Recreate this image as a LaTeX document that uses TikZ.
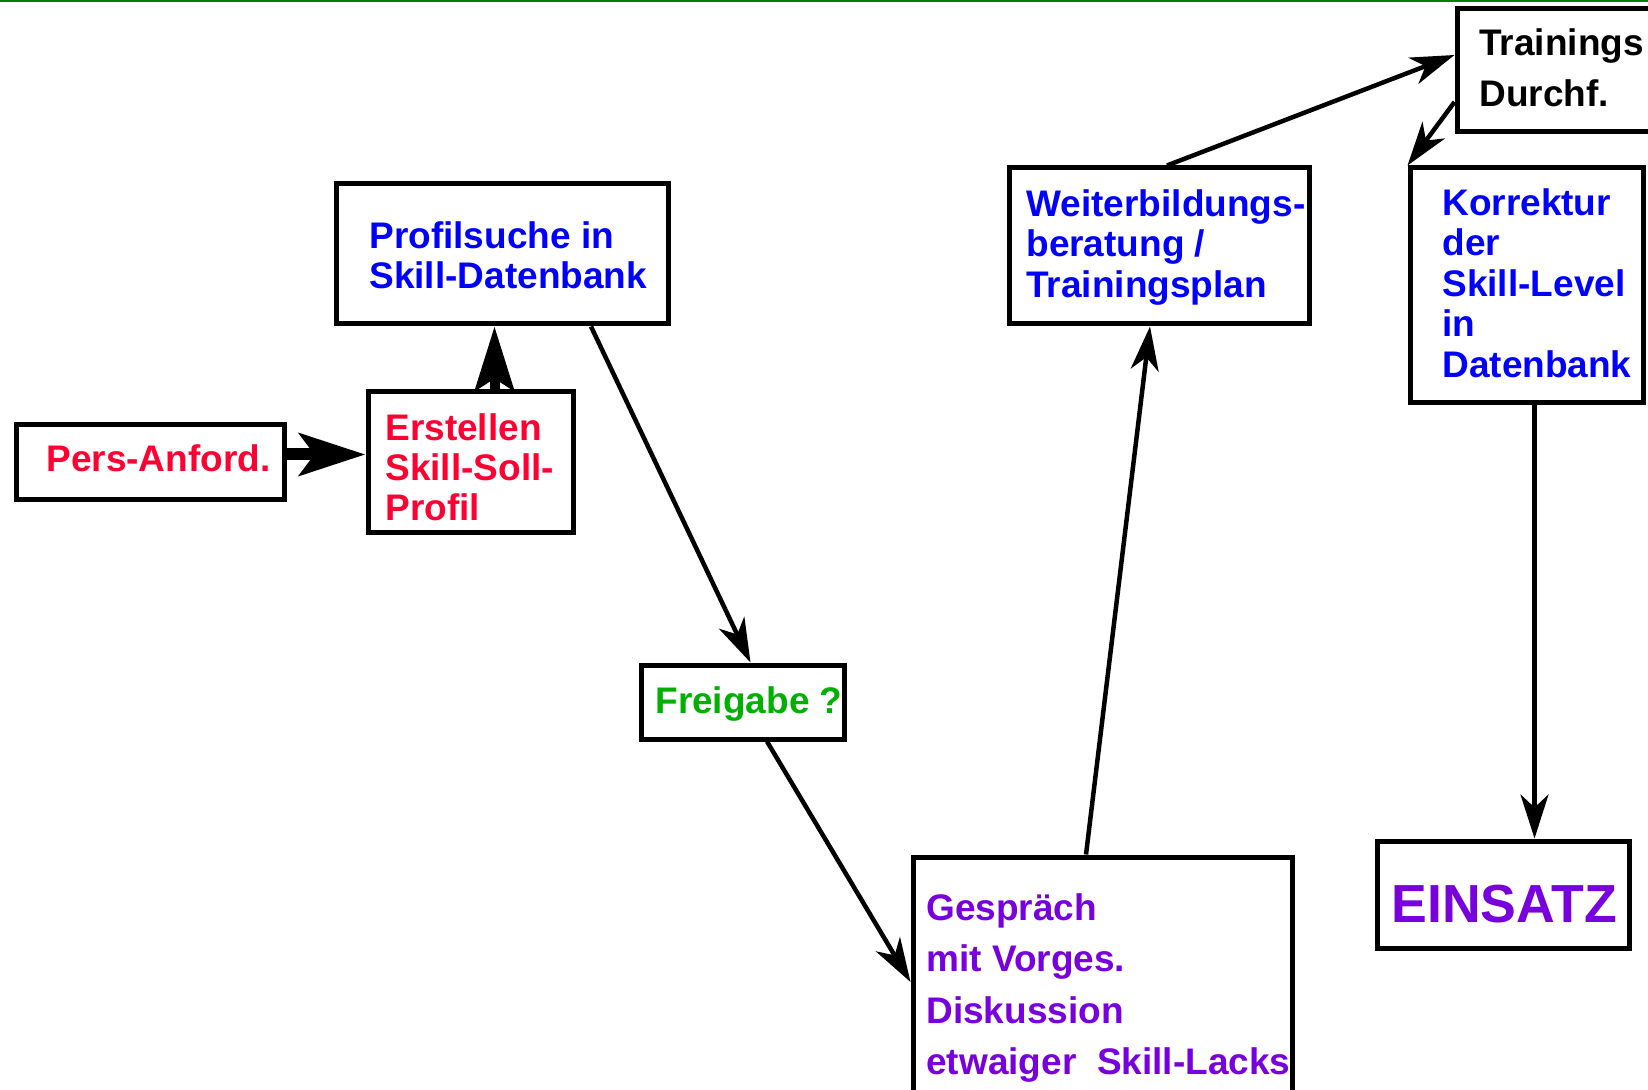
\documentclass[tikz,border=0pt]{standalone}
\usepackage{fontspec}
\setmainfont{Liberation Sans}
\usetikzlibrary{arrows.meta,calc}
\definecolor{cred}{RGB}{255,0,51}
\definecolor{cblue}{RGB}{0,0,255}
\definecolor{cgreen}{RGB}{0,176,0}
\definecolor{cpurple}{RGB}{119,0,221}
\definecolor{ctop}{RGB}{0,128,0}
\newcommand\mytopstrut{\rule{0pt}{14pt}}
\tikzset{
  box/.style={draw=black, line width=2.5pt, inner sep=0pt, rectangle},
  txt/.style={inner sep=0pt, align=left, anchor=north west},
  stxt/.style={inner sep=0pt, anchor=base west},
  thinarrow/.style={draw=black, line width=2.25pt, -{Stealth[length=22pt,width=14pt,inset=6.5pt]}},
  fs/.style={font=\bfseries\fontsize{18.5}{#1}\selectfont},
}
\begin{document}
\begin{tikzpicture}[x=0.5pt,y=-0.5pt]
\useasboundingbox (0,0) rectangle (1648,1090);
\clip (0,0) rectangle (1648,1090);
\fill[white] (0,0) rectangle (1648,1090);
\draw[ctop, line width=1pt] (0,1) -- (1648,1);

% boxes
\node[box, minimum width=134pt, minimum height=37.5pt] (pers) at (150,462.5) {};
\node[box, minimum width=102.5pt, minimum height=70.5pt] (erst) at (470.5,462.5) {};
\node[box, minimum width=166pt, minimum height=70pt] (prof) at (502,254) {};
\node[box, minimum width=101.5pt, minimum height=37pt] (frei) at (742.5,702) {};
\node[box, minimum width=189.5pt, minimum height=121.5pt] (gesp) at (1102.5,978.5) {};
\node[box, minimum width=150pt, minimum height=78pt] (weit) at (1159,246) {};
\node[box, minimum width=106.5pt, minimum height=61.5pt] (train) at (1563.5,70.5) {};
\node[box, minimum width=116.5pt, minimum height=117.5pt] (korr) at (1526.5,285.5) {};
\node[box, minimum width=126pt, minimum height=53.5pt] (eins) at (1503,894.5) {};

% texts
\node[stxt, fs=20pt, text=cred] (persT) at (46,472) {Pers-Anford.};
\node[txt, fs=20pt, text=cred] (erstT) at (385,412) {\mytopstrut Erstellen\\Skill-Soll-\\Profil};
\node[txt, fs=20pt, text=cblue] (profT) at (369,220) {\mytopstrut Profilsuche in\\Skill-Datenbank};
\node[stxt, fs=20pt, text=cgreen] (freiT) at (655,713) {Freigabe ?};
\node[txt, fs=25.75pt, text=cpurple] (gespT) at (926,892) {\mytopstrut Gespräch\\mit Vorges.\\Diskussion\\etwaiger\ \ Skill-Lacks};
\node[txt, fs=20.25pt, text=cblue] (weitT) at (1026,188) {\mytopstrut Weiterbildungs-\\beratung /\\Trainingsplan};
\node[txt, fs=25.5pt, text=black] (trainT) at (1479,27) {\mytopstrut Trainings\\Durchf.};
\node[txt, fs=20.25pt, text=cblue] (korrT) at (1442,187) {\mytopstrut Korrektur\\der\\Skill-Level\\in\\Datenbank};
\node[stxt, font=\bfseries\fontsize{26.8}{30}\selectfont, text=cpurple] (einsT) at (1391,922) {EINSATZ};

% connectors
\draw[line width=6pt, -{Stealth[length=33pt,width=21pt,inset=7.5pt]}]
  ([yshift=4pt]pers.east) -- ([yshift=4pt]erst.west);
\draw[line width=5pt, -{Stealth[length=32pt,width=19.5pt,inset=6pt]}]
  ([xshift=12pt]erst.north) -- ([xshift=12pt]erst.north |- prof.south);
\draw[thinarrow] ([xshift=44.5pt]prof.south) -- ([xshift=4pt]frei.north);
\draw[thinarrow] ([xshift=12.25pt]frei.south) -- ([yshift=-1.75pt]gesp.west);
\draw[thinarrow] ([xshift=-8.25pt]gesp.north) -- ([xshift=-4.5pt]weit.south);
\draw[thinarrow] ([xshift=4pt]weit.north) -- ([yshift=7.75pt]train.west);
\draw[thinarrow] ([yshift=-15.75pt]train.west) -- (korr.north west);
\draw[thinarrow] ([xshift=4pt]korr.south) -- ([xshift=4pt]korr.south |- eins.north);
\end{tikzpicture}
\end{document}
